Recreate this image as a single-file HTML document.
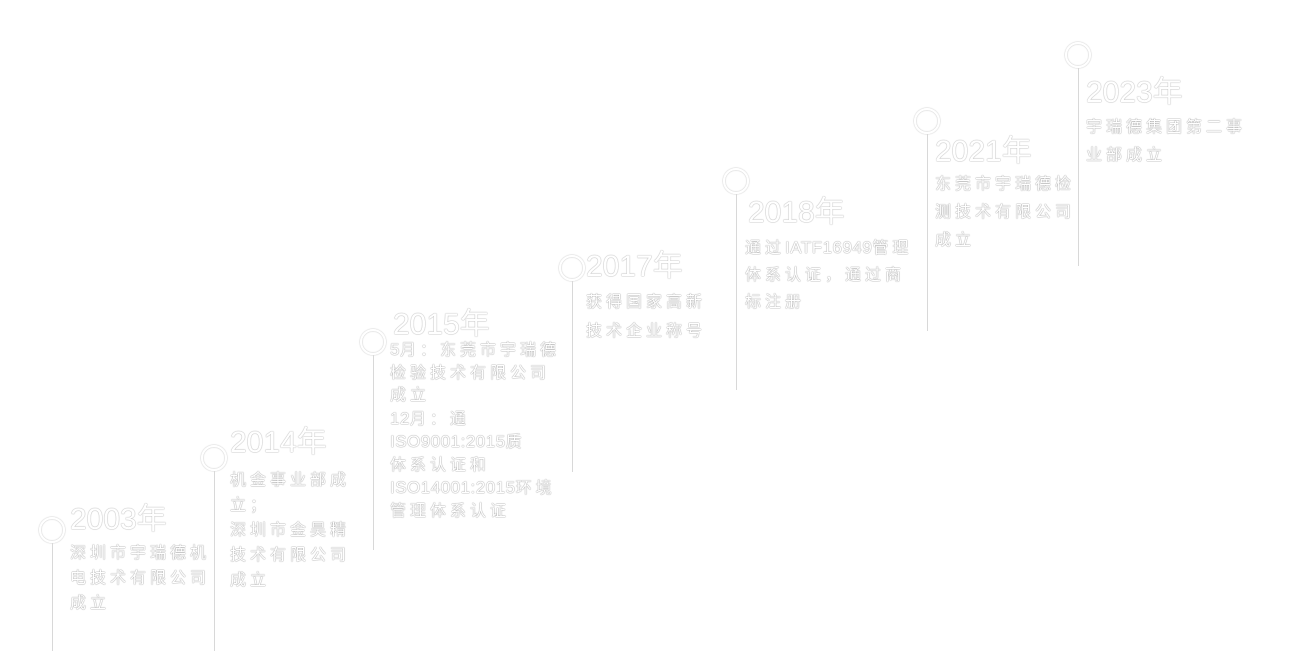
<!DOCTYPE html>
<html><head><meta charset="utf-8"><style>
body{margin:0;width:1300px;height:651px;background:#fff;position:relative;overflow:hidden;font-family:"Liberation Sans","Noto Sans CJK SC",sans-serif}
.c{position:absolute;width:26px;height:26px;border:2px solid #fff;border-radius:50%;box-shadow:0 0 1.5px #aaa,inset 0 0 1.5px #aaa;box-sizing:border-box}
.l{position:absolute;width:1px;background:#d8d8d8}
.t{position:absolute;color:#fff;font-size:30px;line-height:34px;text-shadow:0 0 1px #999,0 0 1px #bbb;white-space:nowrap}
.b{position:absolute;color:#fff;font-size:16px;letter-spacing:4px;text-shadow:0 0 1px #888,0 0 1px #aaa;white-space:nowrap}
.n{letter-spacing:0.5px;font-size:17px}
</style></head><body>
<div class="c" style="left:39px;top:517px"></div><div class="l" style="left:52px;top:543px;height:108px"></div>
<div class="t" style="left:70px;top:503px">2003年</div>
<div class="b" style="left:70px;top:541px;line-height:25px">深圳市宇瑞德机<br>电技术有限公司<br>成立</div>

<div class="c" style="left:201px;top:445px"></div><div class="l" style="left:214px;top:471px;height:180px"></div>
<div class="t" style="left:230px;top:426px">2014年</div>
<div class="b" style="left:230px;top:468px;line-height:25px">机金事业部成<br>立；<br>深圳市金昊精<br>技术有限公司<br>成立</div>

<div class="c" style="left:360px;top:329px"></div><div class="l" style="left:373px;top:355px;height:195px"></div>
<div class="t" style="left:393px;top:308px">2015年</div>
<div class="b" style="left:390px;top:339px;line-height:22.5px"><span class="n">5</span>月：东莞市宇瑞德<br>检验技术有限公司<br>成立<br><span class="n">12</span>月：通<br><span class="n">ISO9001:2015</span>质<br>体系认证和<br><span class="n">ISO14001:2015</span>环境<br>管理体系认证</div>

<div class="c" style="left:559px;top:255px"></div><div class="l" style="left:572px;top:281px;height:191px"></div>
<div class="t" style="left:586px;top:250px">2017年</div>
<div class="b" style="left:586px;top:288px;line-height:29px">获得国家高新<br>技术企业称号</div>

<div class="c" style="left:723px;top:168px"></div><div class="l" style="left:736px;top:194px;height:196px"></div>
<div class="t" style="left:748px;top:196px">2018年</div>
<div class="b" style="left:745px;top:234px;line-height:27px">通过<span class="n">IATF16949</span>管理<br>体系认证，通过商<br>标注册</div>

<div class="c" style="left:914px;top:108px"></div><div class="l" style="left:927px;top:134px;height:197px"></div>
<div class="t" style="left:935px;top:135px">2021年</div>
<div class="b" style="left:935px;top:171px;line-height:28px">东莞市宇瑞德检<br>测技术有限公司<br>成立</div>

<div class="c" style="left:1065px;top:42px"></div><div class="l" style="left:1078px;top:68px;height:198px"></div>
<div class="t" style="left:1086px;top:76px">2023年</div>
<div class="b" style="left:1086px;top:114px;line-height:28px">宇瑞德集团第二事<br>业部成立</div>
</body></html>
